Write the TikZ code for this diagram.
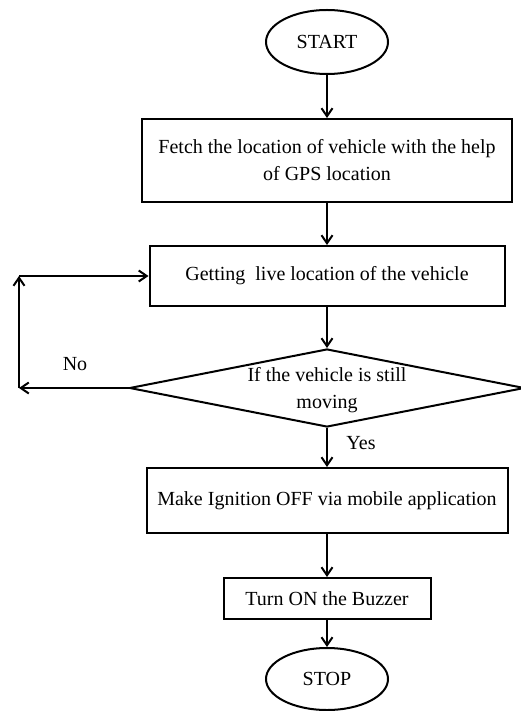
\documentclass[tikz,border=0pt]{standalone}
\usepackage{fontspec}
\setmainfont{Liberation Serif}
\usetikzlibrary{positioning,arrows.meta,shapes.geometric}

\begin{document}
\begin{tikzpicture}[x=1pt, y=-1pt,
  >={Straight Barb[length=8pt, width=11pt]},
  every path/.style={line width=2pt},
  term/.style={draw, ellipse, inner sep=0pt, minimum width=122pt, minimum height=64pt,
               font=\fontsize{20}{27}\selectfont},
  st/.style={draw, align=center, inner sep=0pt, font=\fontsize{20}{27}\selectfont},
  dec/.style={draw, diamond, inner sep=0pt, minimum width=395pt, minimum height=78pt},
  lbl/.style={font=\fontsize{20}{27}\selectfont}]
  \useasboundingbox (0,0) rectangle (521,711);
  \node[term] (start) at (327,42) {START};
  \node[st, minimum width=370pt, minimum height=83pt, below=43pt of start] (fetch)
    {Fetch the location of vehicle with the help\\ of GPS location};
  \node[st, minimum width=355pt, minimum height=60pt, below=42pt of fetch] (live)
    {Getting\ \ live location of the vehicle};
  \node[dec, below=41pt of live] (moving) {};
  \node[lbl, align=center] (movtxt) at ([yshift=-2pt]moving.center)
    {If the vehicle is still\\ moving};
  \node[st, minimum width=361pt, minimum height=65pt, below=39pt of moving] (ign)
    {Make Ignition OFF via mobile application};
  \node[st, minimum width=207pt, minimum height=41pt, below=43pt of ign] (buzz)
    {Turn ON the Buzzer};
  \node[term, minimum height=62pt, below=27pt of buzz] (stop) {STOP};
  % loop back
  \coordinate (nl) at (19,0 |- moving.west);
  \coordinate (nu) at (19,0 |- live.west);
  \node[lbl] (no) at (75,364) {No};
  \node[lbl] (yes) at (361,443) {Yes};
  \draw[->] (start) -- (fetch);
  \draw[->] (fetch) -- (live);
  \draw[->] (live) -- (moving);
  \draw[->] (moving) -- (ign);
  \draw[->] (ign) -- (buzz);
  \draw[->] (buzz) -- (stop);
  \draw[->] (moving.west) -- (nl);
  \draw[->] (nl) -- (nu);
  \draw[->] (nu) -- (live.west);
\end{tikzpicture}
\end{document}
